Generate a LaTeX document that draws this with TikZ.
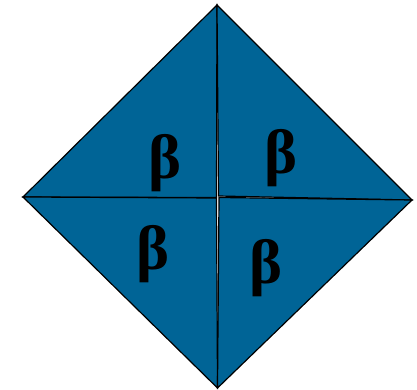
\documentclass[tikz,border=0pt]{standalone}
\usepackage{fontspec}
\setmainfont{Liberation Serif}
\usepackage{tikz}
\definecolor{TriBlue}{RGB}{0,100,150}

\begin{document}
\begin{tikzpicture}[
x=0.75pt,y=-0.75pt,
tri/.style={draw=black,fill=TriBlue,line width=0.9pt,line join=miter},
lbl/.style={inner sep=0pt,font=\fontsize{47}{47}\selectfont\bfseries}
]
\useasboundingbox (0,0) rectangle (417,389);
% corners of the square
\coordinate (top) at (217,5);
\coordinate (lft) at (23,197);
\coordinate (rgt) at (412,200);
\coordinate (bot) at (217.5,388);
\coordinate (cul) at (216.5,197.5);
\coordinate (cur) at (218.5,196);
\coordinate (cll) at (216.5,198);
\coordinate (clr) at (219,197.5);
% four triangles
\draw[tri] (top) -- (lft) -- (cul) -- cycle;
\draw[tri] (top) -- (cur) -- (rgt) -- cycle;
\draw[tri] (lft) -- (cll) -- (bot) -- cycle;
\draw[tri] (clr) -- (rgt) -- (bot) -- cycle;
% labels
\node[lbl] (bul) at (165,163) {β};
\node[lbl] (bur) at (281,158) {β};
\node[lbl] (bll) at (153,254) {β};
\node[lbl] (blr) at (266,268) {β};
\end{tikzpicture}
\end{document}
